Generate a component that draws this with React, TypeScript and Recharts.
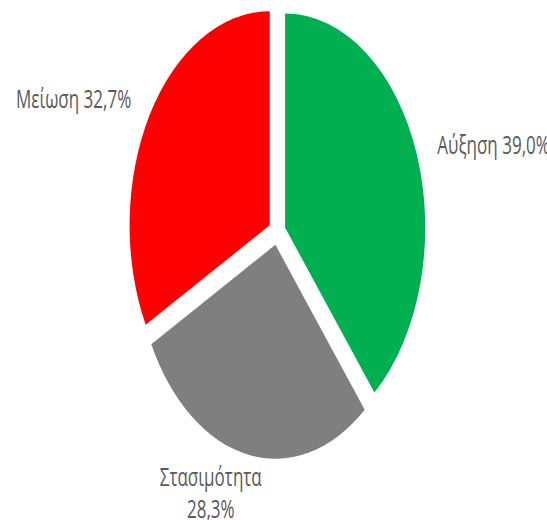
import React from 'react';
import { PieChart, Pie, Cell, Sector } from 'recharts';

const categories = ['Αύξηση', 'Στασιμότητα', 'Μείωση'];
const values = [39.0, 28.3, 32.7];
const colors = ['#00B050', '#7F7F7F', '#FF0000'];

const data = categories.map((name, i) => ({ name, value: values[i] }));

const SCALE_X = 0.655;
const EXPLODE = 13;
const FONT = '"Open Sans", sans-serif';
const FS = 26;
const TEXT_COLOR = '#595959';
const RAD = Math.PI / 180;

const fmt = (v: number) => v.toFixed(1).replace('.', ',') + '%';

const ExplodedSector = (props: any) => {
  const { cx, cy, midAngle } = props;
  const dx = EXPLODE * Math.cos(-midAngle * RAD);
  const dy = EXPLODE * Math.sin(-midAngle * RAD);
  return <Sector {...props} cx={cx + dx} cy={cy + dy} stroke="none" />;
};

const renderLabel = (p: any) => {
  const cos = Math.cos(-p.midAngle * RAD);
  const sin = Math.sin(-p.midAngle * RAD);
  const label = `${p.name} ${fmt(p.value)}`;
  if (Math.abs(cos) > 0.5) {
    const R = p.outerRadius + 46;
    const x = p.cx + R * cos;
    const y = p.cy + R * sin;
    return (
      <text
        key={p.name}
        x={x}
        y={y}
        textAnchor={cos > 0 ? 'start' : 'end'}
        dominantBaseline="central"
        fontFamily={FONT}
        fontSize={FS}
        fill={TEXT_COLOR}
      >
        {label}
      </text>
    );
  }
  const R = p.outerRadius + 26;
  const x = p.cx + R * cos - 54;
  const y = p.cy + R * sin + 19;
  return (
    <text
      key={p.name}
      x={x}
      y={y}
      textAnchor="middle"
      fontFamily={FONT}
      fontSize={FS}
      fill={TEXT_COLOR}
    >
      <tspan x={x} dy={0}>{p.name}</tspan>
      <tspan x={x} dy={32}>{fmt(p.value)}</tspan>
    </text>
  );
};

export default function App() {
  return (
    <div
      style={{
        position: 'absolute',
        left: 0,
        top: 0,
        width: 835,
        height: 520,
        transform: `scaleX(${SCALE_X})`,
        transformOrigin: '0 0',
        background: '#fff',
      }}
    >
      <style>{'.recharts-surface{overflow:visible}'}</style>
      <PieChart width={835} height={520} margin={{ top: 0, right: 0, bottom: 0, left: 0 }}>
        <Pie
          data={data}
          dataKey="value"
          nameKey="name"
          cx={423}
          cy={232}
          outerRadius={214}
          startAngle={90}
          endAngle={-270}
          isAnimationActive={false}
          shape={ExplodedSector}
          label={renderLabel}
          labelLine={false}
          stroke="none"
        >
          {data.map((d, i) => (
            <Cell key={d.name} fill={colors[i]} />
          ))}
        </Pie>
      </PieChart>
    </div>
  );
}
